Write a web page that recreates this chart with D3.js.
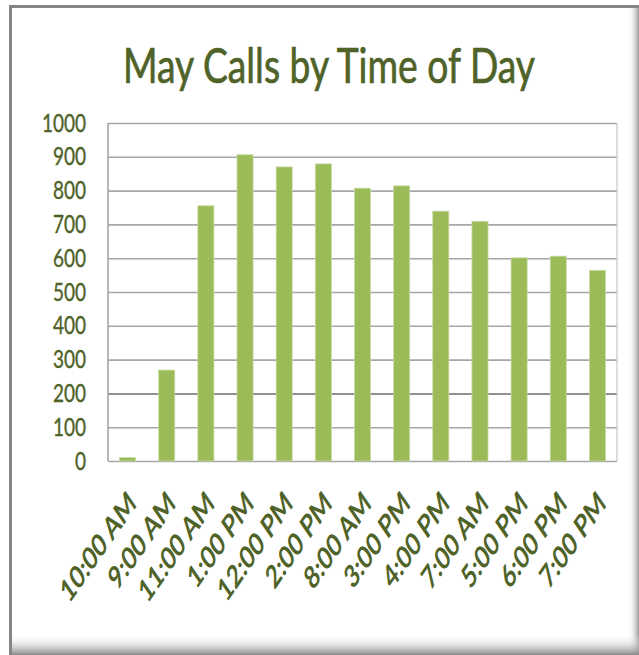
<!DOCTYPE html>
<html><head><meta charset="utf-8">
<script src="https://cdn.jsdelivr.net/npm/d3@7"></script>
<style>html,body{margin:0;padding:0;background:#fff;}svg{display:block;}</style>
</head><body>
<script>
const categories = ["10:00 AM","9:00 AM","11:00 AM","1:00 PM","12:00 PM","2:00 PM","8:00 AM","3:00 PM","4:00 PM","7:00 AM","5:00 PM","6:00 PM","7:00 PM"];
const calls = [10, 269, 755, 906, 870, 879, 807, 814, 739, 709, 601, 606, 564];
const yTicks = [0,100,200,300,400,500,600,700,800,900,1000];
const title = "May Calls by Time of Day";

const W = 639, H = 655;
const svg = d3.select("body").append("svg").attr("width", W).attr("height", H);
const defs = svg.append("defs");
const gr = defs.append("linearGradient").attr("id","gR").attr("x1","0").attr("x2","1").attr("y1","0").attr("y2","0");
gr.append("stop").attr("offset","0").attr("stop-color","#fff").attr("stop-opacity",0);
gr.append("stop").attr("offset","1").attr("stop-color","#9a9a9a");
const gb = defs.append("linearGradient").attr("id","gB").attr("x1","0").attr("x2","0").attr("y1","0").attr("y2","1");
gb.append("stop").attr("offset","0").attr("stop-color","#fff").attr("stop-opacity",0);
gb.append("stop").attr("offset","1").attr("stop-color","#8a8a8a");

// frame
svg.append("rect").attr("x",10.5).attr("y",6.5).attr("width",W-10).attr("height",H-6).attr("fill","#fff").attr("stroke","#858585").attr("stroke-width",3);
svg.append("rect").attr("x",628).attr("y",8).attr("width",11).attr("height",H-8).attr("fill","url(#gR)");
svg.append("rect").attr("x",12).attr("y",634).attr("width",W-12).attr("height",21).attr("fill","url(#gB)");

const m = {left:108, right:617, top:123, bottom:461};
const x = d3.scaleBand().domain(categories).range([m.left, m.right]).paddingInner(0.59).paddingOuter(0.295);
const y = d3.scaleLinear().domain([0,1000]).range([m.bottom, m.top]);
const green = "#4F6228";
const font = "Lato, 'Open Sans', sans-serif";

// title
const t = svg.append("text").attr("text-anchor","middle")
  .attr("font-family",font).attr("font-size",49).attr("fill",green)
  .attr("stroke",green).attr("stroke-width",0.7).text(title);
const tw = t.node().getComputedTextLength();
t.attr("transform",`translate(329,83) scale(${412/tw},1)`);

// gridlines
const grid = svg.append("g").attr("transform",`translate(${m.left},0)`)
  .call(d3.axisLeft(y).tickValues(yTicks).tickSize(-(m.right-m.left)).tickFormat(""));
grid.select(".domain").remove();
grid.selectAll(".tick line").attr("stroke", d => d === 200 ? "#8f8f8f" : "#a6a6a6").attr("stroke-width", d => d === 200 ? 2 : 1.6);
svg.append("line").attr("x1",m.left).attr("x2",m.left).attr("y1",m.top).attr("y2",m.bottom).attr("stroke","#a6a6a6").attr("stroke-width",1.6);
svg.append("line").attr("x1",m.right).attr("x2",m.right).attr("y1",m.top).attr("y2",m.bottom).attr("stroke","#c8c8c8").attr("stroke-width",1.2);

// y labels
svg.append("g").selectAll("text").data(yTicks).join("text")
  .attr("transform", d => `translate(86,${y(d)+8.5}) scale(0.95,1.28)`)
  .attr("text-anchor","end").attr("font-family",font).attr("font-size",20)
  .attr("fill",green).attr("stroke",green).attr("stroke-width",0.3).text(d => d);

// bars
svg.append("g").selectAll("rect").data(calls).join("rect")
  .attr("x",(d,i)=>x(categories[i])).attr("width",x.bandwidth())
  .attr("y",d=>y(d)).attr("height",d=>y(0)-y(d))
  .attr("fill","#9BBB59").attr("stroke","#c6d9a0").attr("stroke-width",0.8);

// x labels
svg.append("g").selectAll("text").data(categories).join("text")
  .attr("transform", d => `translate(${x(d)+x.bandwidth()/2+10},505) scale(0.95,1.38) rotate(-45)`)
  .attr("text-anchor","end").attr("font-family",font).attr("font-size",23)
  .attr("font-weight",700).attr("fill",green).text(d => d);
</script>
</body></html>
